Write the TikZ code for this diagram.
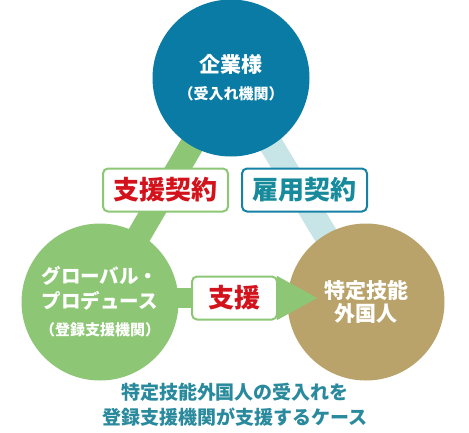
\documentclass[tikz,border=0pt]{standalone}
\usepackage{fontspec}
\setmainfont{Noto Sans CJK JP}
\usetikzlibrary{arrows.meta,backgrounds}

\definecolor{kigyoblue}{HTML}{0A7BA4}
\definecolor{shiengreen}{HTML}{8DC775}
\definecolor{gaikokutan}{HTML}{B9A36A}
\definecolor{koyolight}{HTML}{C7E4E7}
\definecolor{shienred}{HTML}{D3121C}
\definecolor{koyoteal}{HTML}{178B9C}
\definecolor{koyoline}{HTML}{1681A6}
\definecolor{caseteal}{HTML}{2A8A9D}

\tikzset{
  party/.style={circle, minimum size=157pt, inner sep=0pt, text=white,
    align=center, font=\bfseries\fontsize{19.5}{25}\selectfont},
  band/.style={line width=24pt},
  keiyaku/.style={draw, line width=2pt, rounded corners=5pt, fill=white,
    minimum width=125pt, minimum height=43pt, inner sep=0pt,
    font=\bfseries\fontsize{26}{30}\selectfont},
}

\begin{document}
\begin{tikzpicture}[x=1pt, y=-1pt]
\useasboundingbox (0,0) rectangle (469,432);

% the three parties
\node[party, fill=kigyoblue] (kigyo) at (231,78)
  {{\fontsize{21}{25}\selectfont 企業様}\\[2pt]{\fontsize{15}{25}\selectfont （受入れ機関）}};
\node[party, fill=shiengreen] (gp) at (100,302)
  {グローバル・\\プロデュース\\[2pt]{\fontsize{15}{25}\selectfont （登録支援機関）}};
\node[party, fill=gaikokutan, font=\bfseries\fontsize{21}{23}\selectfont] (gaikoku) at (366,302)
  {特定技能\\外国人};

% contracts
\begin{scope}[on background layer]
  \draw[band, shiengreen] (gp.center) -- (kigyo.center);
  \draw[band, koyolight] (kigyo.center) -- (gaikoku.center);
\end{scope}
\path (gp.center) -- node[keiyaku, draw=shiengreen, text=shienred] (shienkeiyaku) {支援契約} (kigyo.center);
\path (kigyo.center) -- node[keiyaku, draw=koyoline, text=koyoteal, xshift=6pt] (koyokeiyaku) {雇用契約} (gaikoku.center);

% support arrow
\coordinate (shientip) at ([xshift=-48pt,yshift=4pt]gaikoku.center);
\draw[shiengreen, line width=20pt, -{Triangle[length=41pt,width=41pt]}]
  ([xshift=-6pt,yshift=4pt]gp.east) -- (shientip);
\node[keiyaku, minimum width=85pt, draw=shiengreen, text=shienred] (shien) at (234.5,298) {支援};

% caption
\node[text=caseteal, align=center, font=\bfseries\fontsize{19}{25}\selectfont] (case) at (235,405)
  {特定技能外国人の受入れを\\登録支援機関が支援するケース};
\end{tikzpicture}
\end{document}
